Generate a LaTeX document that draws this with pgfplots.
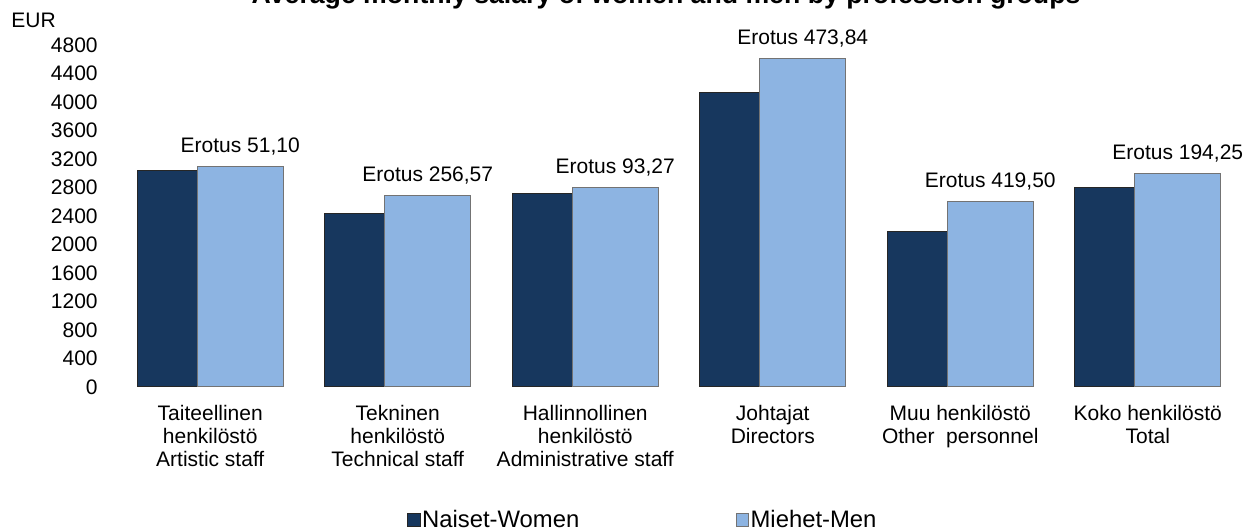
\documentclass[border=0pt]{standalone}
\usepackage{fontspec}
\setmainfont{Liberation Sans}
\setsansfont{Liberation Sans}
\usepackage{pgfplots}
\pgfplotsset{compat=1.18}
\definecolor{women}{HTML}{17375E}
\definecolor{men}{HTML}{8DB4E2}
\newcommand{\lblfont}{\fontsize{12.6}{13.8}\selectfont}
\begin{document}
\begin{tikzpicture}
\begin{axis}[
  at={(0,0)}, anchor=south west,
  scale only axis, width=675pt, height=205.2pt,
  xmin=-0.5, xmax=5.5, ymin=0, ymax=4800,
  axis x line*=bottom, axis y line*=left,
  axis line style={draw=none},
  ytick={0,400,...,4800},
  xtick={0,...,5},
  xticklabels={{Taiteellinen\\henkilöstö\\Artistic staff},
               {Tekninen\\henkilöstö\\Technical staff},
               {Hallinnollinen\\henkilöstö\\Administrative staff},
               {Johtajat\\Directors},
               {Muu henkilöstö\\Other\ \ personnel},
               {Koko henkilöstö\\Total}},
  major tick length=0pt,
  tick style={draw=none},
  yticklabel style={anchor=east, inner sep=0pt, xshift=-11.1pt, font=\lblfont},
  xticklabel style={anchor=north, align=center, inner sep=0pt, yshift=-10.5pt, font=\lblfont},
  /pgf/number format/assume math mode=true,
  /pgf/number format/set thousands separator={},
  scaled y ticks=false,
  ybar, bar width=51.6pt,
  legend style={at={(0.2582,-0.389)}, anchor=west, draw=none, fill=none,
    legend columns=2, inner sep=0pt, font=\fontsize{14.3}{16.5}\selectfont,
    nodes={inner sep=0.9pt},
    /tikz/every even column/.append style={column sep=93pt}},
  legend image code/.code={\draw[#1, line width=0.6pt] (0pt,-3.7pt) rectangle (7.4pt,3.7pt);},
]
\addplot[fill=women, draw=black!85, line width=0.6pt, bar shift=-18pt]
  coordinates {(0,3040) (1,2431) (2,2713) (3,4140) (4,2182) (5,2800)};
\addlegendentry{Naiset-Women}
\addplot[fill=men, draw=black!55, line width=0.6pt, bar shift=18pt,
  point meta=explicit symbolic, nodes near coords,
  nodes near coords style={anchor=base, yshift=8.4pt, inner sep=0pt, font=\lblfont, text=black}]
  coordinates {(0,3091.10) [Erotus 51,10]
               (1,2687.57) [Erotus 256,57]
               (2,2806.27) [Erotus 93,27]
               (3,4613.84) [Erotus 473,84]
               (4,2601.50) [Erotus 419,50]
               (5,2994.25) [Erotus 194,25]};
\addlegendentry{Miehet-Men}
\end{axis}
\node[anchor=base, inner sep=0pt, font=\bfseries\fontsize{16}{19}\selectfont] at (329.7pt,230.1pt)
  {Average monthly salary of women and men by profession groups};
\node[anchor=base west, inner sep=0pt, font=\lblfont] at (-63.3pt,215.4pt) {EUR};
\pgfresetboundingbox
\useasboundingbox (-69.9pt,-85.8pt) rectangle (681.9pt,232.2pt);
\end{tikzpicture}
\end{document}
